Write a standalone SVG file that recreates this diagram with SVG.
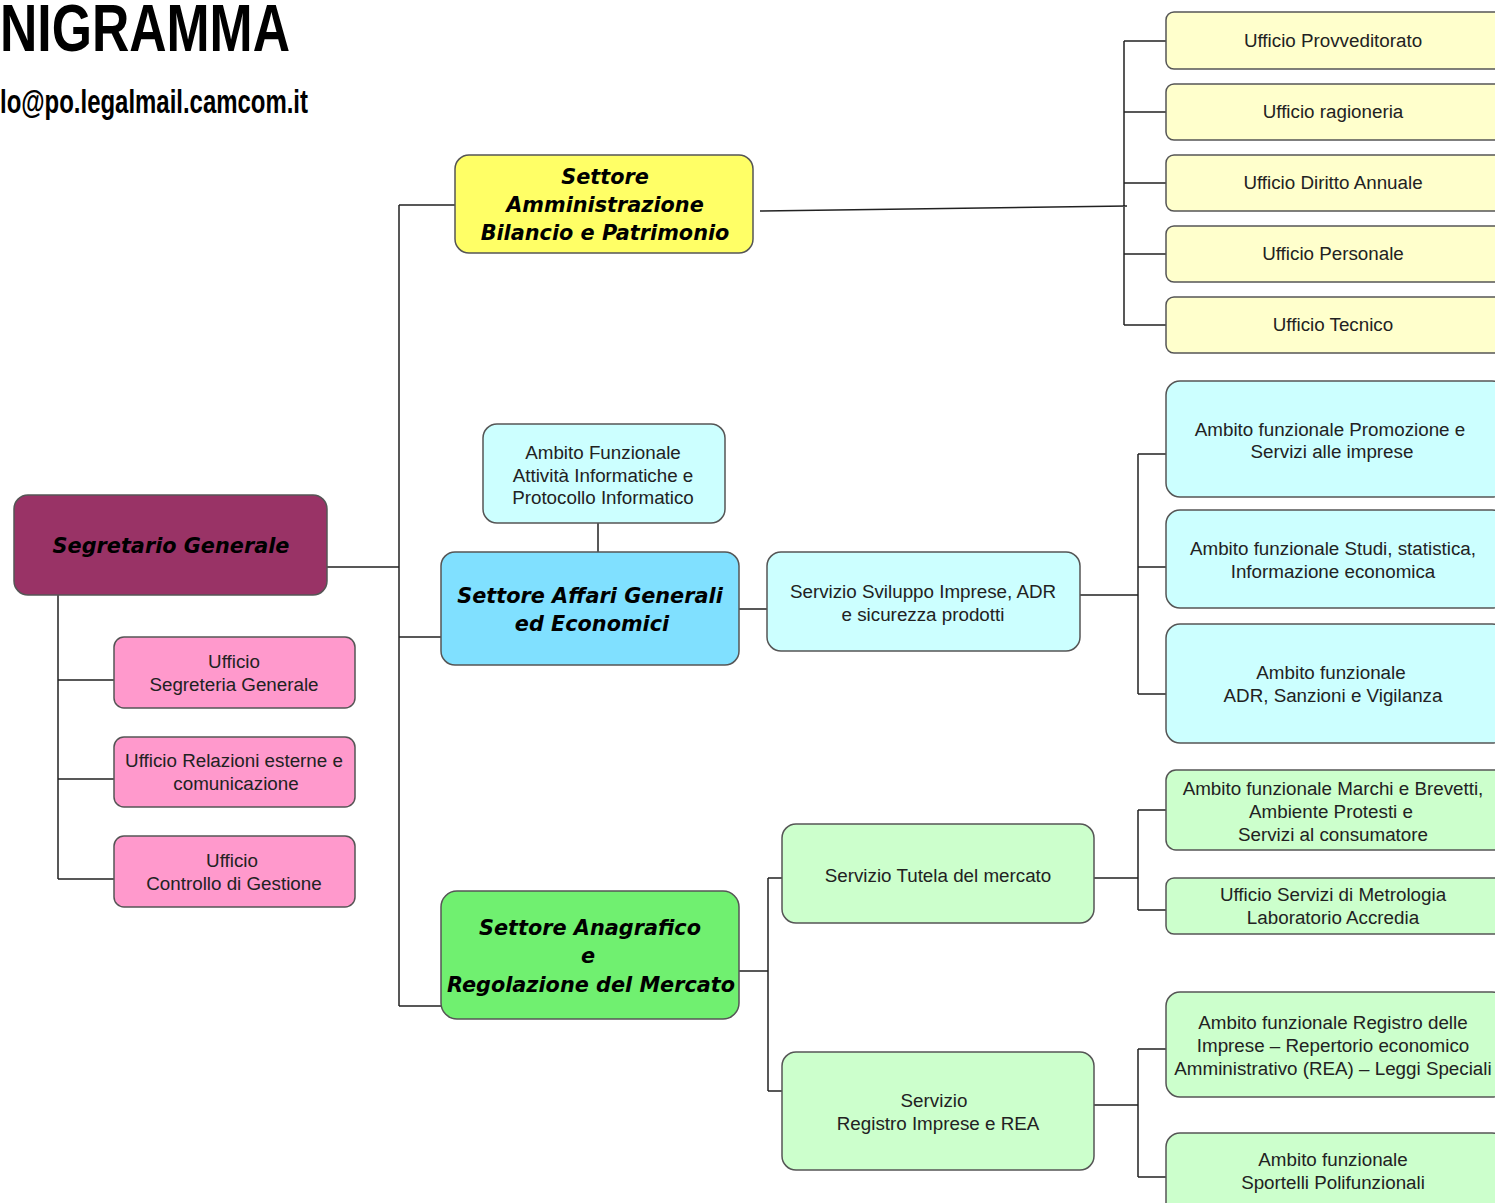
<svg xmlns="http://www.w3.org/2000/svg" width="1495" height="1203" viewBox="0 0 1495 1203">
<style>
.box{stroke:#555;stroke-width:1.5}
.t{font-family:"Liberation Sans",Arial,sans-serif;font-size:18.8px;fill:#222;text-anchor:middle}
.b{font-family:"DejaVu Sans",Verdana,sans-serif;font-size:20.8px;font-weight:bold;font-style:italic;fill:#000;text-anchor:middle}
.c{fill:none;stroke:#222;stroke-width:1.5}
.yl{fill:#FFFFCC}.cy{fill:#CCFFFF}.gr{fill:#CCFFCC}.pk{fill:#FF99CC}
</style>
<rect width="1495" height="1203" fill="#fff"/>
<text x="0" y="51" font-family="Liberation Sans, Arial, sans-serif" font-weight="bold" font-size="66" textLength="290" lengthAdjust="spacingAndGlyphs" fill="#000">NIGRAMMA</text>
<text x="0" y="113" font-family="Liberation Sans, Arial, sans-serif" font-weight="bold" font-size="33" textLength="308" lengthAdjust="spacingAndGlyphs" fill="#000">lo@po.legalmail.camcom.it</text>

<g id="connectors">
<path class="c" d="M58 595V879M58 680H114M58 779H114M58 879H114"/>
<path class="c" d="M327 567H399M399 205V1006M399 205H455M399 637H441M399 1006H441"/>
<path class="c" d="M760 211L1127 206M1124 41V325M1124 41H1166M1124 112H1166M1124 183H1166M1124 254H1166M1124 325H1166"/>
<path class="c" d="M598 523V552M739 609H767M1080 595H1138M1138 454V694M1138 454H1166M1138 567H1166M1138 694H1166"/>
<path class="c" d="M739 971H768M768 878V1091M768 878H782M768 1091H782"/>
<path class="c" d="M1094 878H1138M1138 810V910M1138 810H1166M1138 910H1166"/>
<path class="c" d="M1094 1105H1138M1138 1049V1177M1138 1049H1166M1138 1177H1166"/>
</g>

<g id="segretario"><rect class="box" x="14" y="495" width="313" height="100" rx="14" fill="#993366"/><text class="b" x="171" y="553">Segretario Generale</text></g>
<g id="uff-segreteria"><rect class="box pk" x="114" y="637" width="241" height="71" rx="10"/><text class="t" x="234" y="668">Ufficio</text><text class="t" x="234" y="691">Segreteria Generale</text></g>
<g id="uff-relazioni"><rect class="box pk" x="114" y="737" width="241" height="70" rx="10"/><text class="t" x="234" y="767">Ufficio Relazioni esterne e</text><text class="t" x="236" y="790">comunicazione</text></g>
<g id="uff-controllo"><rect class="box pk" x="114" y="836" width="241" height="71" rx="10"/><text class="t" x="232" y="867">Ufficio</text><text class="t" x="234" y="890">Controllo di Gestione</text></g>

<g id="settore-amm"><rect class="box" x="455" y="155" width="298" height="98" rx="14" fill="#FFFF66"/><text class="b" x="605" y="184">Settore</text><text class="b" x="605" y="212">Amministrazione</text><text class="b" x="605" y="240">Bilancio e Patrimonio</text></g>

<g id="uff-provveditorato"><rect class="box yl" x="1166" y="12" width="340" height="57" rx="8"/><text class="t" x="1333" y="47">Ufficio Provveditorato</text></g>
<g id="uff-ragioneria"><rect class="box yl" x="1166" y="84" width="340" height="56" rx="8"/><text class="t" x="1333" y="118">Ufficio ragioneria</text></g>
<g id="uff-diritto"><rect class="box yl" x="1166" y="155" width="340" height="56" rx="8"/><text class="t" x="1333" y="189">Ufficio Diritto Annuale</text></g>
<g id="uff-personale"><rect class="box yl" x="1166" y="226" width="340" height="56" rx="8"/><text class="t" x="1333" y="260">Ufficio Personale</text></g>
<g id="uff-tecnico"><rect class="box yl" x="1166" y="297" width="340" height="56" rx="8"/><text class="t" x="1333" y="331">Ufficio Tecnico</text></g>

<g id="ambito-informatica"><rect class="box cy" x="483" y="424" width="242" height="99" rx="14"/><text class="t" x="603" y="459">Ambito Funzionale</text><text class="t" x="603" y="482">Attività Informatiche e</text><text class="t" x="603" y="504">Protocollo Informatico</text></g>
<g id="settore-affari"><rect class="box" x="441" y="552" width="298" height="113" rx="14" fill="#80E0FF"/><text class="b" x="590" y="603">Settore Affari Generali</text><text class="b" x="592" y="631">ed Economici</text></g>
<g id="servizio-sviluppo"><rect class="box cy" x="767" y="552" width="313" height="99" rx="14"/><text class="t" x="923" y="598">Servizio Sviluppo Imprese, ADR</text><text class="t" x="923" y="621">e sicurezza prodotti</text></g>

<g id="ambito-promozione"><rect class="box cy" x="1166" y="381" width="340" height="116" rx="14"/><text class="t" x="1330" y="436">Ambito funzionale Promozione e</text><text class="t" x="1332" y="458">Servizi alle imprese</text></g>
<g id="ambito-studi"><rect class="box cy" x="1166" y="510" width="340" height="98" rx="14"/><text class="t" x="1333" y="555">Ambito funzionale Studi, statistica,</text><text class="t" x="1333" y="578">Informazione economica</text></g>
<g id="ambito-adr"><rect class="box cy" x="1166" y="624" width="340" height="119" rx="14"/><text class="t" x="1331" y="679">Ambito funzionale</text><text class="t" x="1333" y="702">ADR, Sanzioni e Vigilanza</text></g>

<g id="settore-anagrafico"><rect class="box" x="441" y="891" width="298" height="128" rx="16" fill="#70F070"/><text class="b" x="590" y="935">Settore Anagrafico</text><text class="b" x="588" y="963">e</text><text class="b" x="591" y="992">Regolazione del Mercato</text></g>
<g id="servizio-tutela"><rect class="box gr" x="782" y="824" width="312" height="99" rx="14"/><text class="t" x="938" y="882">Servizio Tutela del mercato</text></g>
<g id="servizio-registro"><rect class="box gr" x="782" y="1052" width="312" height="118" rx="14"/><text class="t" x="934" y="1107">Servizio</text><text class="t" x="938" y="1130">Registro Imprese e REA</text></g>

<g id="ambito-marchi"><rect class="box gr" x="1166" y="770" width="340" height="80" rx="10"/><text class="t" x="1333" y="795">Ambito funzionale Marchi e Brevetti,</text><text class="t" x="1331" y="818">Ambiente Protesti e</text><text class="t" x="1333" y="841">Servizi al consumatore</text></g>
<g id="uff-metrologia"><rect class="box gr" x="1166" y="878" width="340" height="56" rx="8"/><text class="t" x="1333" y="901">Ufficio Servizi di Metrologia</text><text class="t" x="1333" y="924">Laboratorio Accredia</text></g>
<g id="ambito-registro"><rect class="box gr" x="1166" y="992" width="340" height="105" rx="14"/><text class="t" x="1333" y="1029">Ambito funzionale Registro delle</text><text class="t" x="1333" y="1052">Imprese – Repertorio economico</text><text class="t" x="1333" y="1075">Amministrativo (REA) – Leggi Speciali</text></g>
<g id="ambito-sportelli"><rect class="box gr" x="1166" y="1133" width="340" height="90" rx="14"/><text class="t" x="1333" y="1166">Ambito funzionale</text><text class="t" x="1333" y="1189">Sportelli Polifunzionali</text></g>
</svg>
